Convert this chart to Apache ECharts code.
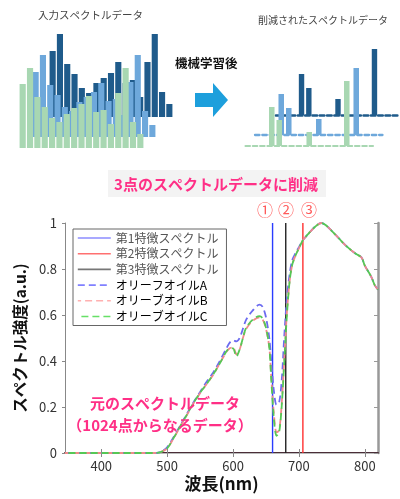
<!DOCTYPE html>
<html><head><meta charset="utf-8">
<script src="https://cdn.jsdelivr.net/npm/echarts@6/dist/echarts.min.js"></script>
<style>html,body{margin:0;padding:0;background:#fff}#c{width:400px;height:499px}</style>
</head><body><div id="c"></div>
<script>
const FONT = '"Noto Sans CJK JP", "Noto Sans", sans-serif';

// ---- main spectrum chart data ----
const wavelengths = [345, 400, 450, 480, 490, 500, 510, 520, 530, 540, 550, 560, 570, 580, 590, 595, 600, 605, 610, 615, 620, 630, 640, 645, 650, 655, 658, 662, 666, 670, 674, 678, 682, 686, 690, 695, 700, 706, 715, 725, 734, 741, 750, 760, 770, 780, 787, 795, 800, 810, 815, 820];
const oilA = [0, 0, 0, 0, 0.005, 0.025, 0.07, 0.12, 0.17, 0.22, 0.265, 0.31, 0.35, 0.40, 0.455, 0.48, 0.49, 0.485, 0.50, 0.54, 0.58, 0.62, 0.645, 0.635, 0.59, 0.50, 0.40, 0.27, 0.21, 0.22, 0.32, 0.52, 0.68, 0.78, 0.84, 0.87, 0.895, 0.925, 0.955, 0.985, 1.0, 0.99, 0.965, 0.935, 0.905, 0.88, 0.865, 0.85, 0.815, 0.765, 0.73, 0.71];
const oilB = [0, 0, 0, 0, 0.004, 0.02, 0.065, 0.115, 0.165, 0.215, 0.26, 0.30, 0.34, 0.39, 0.44, 0.455, 0.46, 0.43, 0.45, 0.50, 0.54, 0.575, 0.59, 0.58, 0.54, 0.46, 0.33, 0.17, 0.09, 0.10, 0.22, 0.42, 0.62, 0.75, 0.82, 0.86, 0.89, 0.925, 0.955, 0.985, 1.0, 0.99, 0.965, 0.935, 0.905, 0.88, 0.865, 0.85, 0.815, 0.765, 0.73, 0.71];
const oilC = [0, 0, 0, 0, 0.004, 0.02, 0.066, 0.117, 0.167, 0.218, 0.262, 0.30, 0.342, 0.39, 0.442, 0.455, 0.455, 0.42, 0.45, 0.50, 0.545, 0.58, 0.595, 0.585, 0.545, 0.46, 0.32, 0.15, 0.075, 0.09, 0.21, 0.41, 0.61, 0.75, 0.82, 0.86, 0.89, 0.925, 0.955, 0.985, 1.0, 0.99, 0.965, 0.935, 0.905, 0.88, 0.865, 0.85, 0.815, 0.765, 0.73, 0.71];
const oilNames = ['オリーフオイルA', 'オリーブオイルB', 'オリーブオイルC'];
const featureNames = ['第1特徴スペクトル', '第2特徴スペクトル', '第3特徴スペクトル'];
const featureWavelengths = [660, 706, 680];
const xTicks = [400, 500, 600, 700, 800];
const yTicks = [0, 0.2, 0.4, 0.6, 0.8, 1];

// ---- illustration (bar heights, arbitrary units) ----
const inputDark  = [66, 83, 53, 43, 29, 24, 34, 39, 44, 55, 34, 37, 20, 55, 83, 25, 13];
const inputMid   = [65, 82, 52, 42, 30, 26, 35, 40, 45, 54, 36, 38, 22, 55, 82, 26, 12];
const inputGreen = [64, 80, 51, 41, 30, 26, 34, 40, 44, 52, 36, 38, 24, 55, 80, 26, 14];
const reducedDark  = [null, null, null, 41, 27, null, null, null, 16, null, null, null, null, 66, null, null, null];
const reducedMid   = [null, null, null, 41, 27, null, null, null, 16, null, null, null, null, 67, null, null, null];
const reducedGreen = [null, null, null, 39, 26, null, null, null, 14, null, null, null, null, 65, null, null, null];

const C_DARK = '#1f5b8b', C_MID = '#6ea8db', C_GREEN = '#a8d7b2';

const idx = n => Array.from({length: n}, (_, i) => i);
const zip = (xs, ys) => xs.map((x, i) => [x, ys[i]]);

const chart = echarts.init(document.getElementById('c'), null, {renderer: 'canvas'});

const illGrids = [
  {left: 49, top: 17, width: 124, height: 100},
  {left: 32, top: 37, width: 124, height: 100},
  {left: 19, top: 48, width: 125, height: 100},
  {left: 276, top: 15, width: 127.5, height: 100},
  {left: 255, top: 35, width: 127.5, height: 100},
  {left: 245.5, top: 46, width: 127.5, height: 100}
];
const illData = [inputDark, inputMid, inputGreen, reducedDark, reducedMid, reducedGreen];
const illColors = [C_DARK, C_MID, C_GREEN, C_DARK, C_MID, C_GREEN];
const dashW = [2.7, 2.3, 2.1];

const xAxes = [
  {type: 'value', gridIndex: 0, min: 345, max: 820,
   axisLine: {show: true, lineStyle: {color: '#4a2e38', width: 2}},
   axisTick: {show: true, inside: true, length: 4, customValues: xTicks, lineStyle: {color: '#888'}},
   axisLabel: {customValues: xTicks, color: '#333', fontSize: 13, margin: 7, fontFamily: FONT},
   splitLine: {show: false},
   name: '波長(nm)', nameLocation: 'middle', nameGap: 22,
   nameTextStyle: {fontSize: 17, fontWeight: 'bold', color: '#111', fontFamily: FONT}},
  {type: 'value', gridIndex: 0, min: 345, max: 820, position: 'top',
   axisLine: {show: true, lineStyle: {color: '#bbb', width: 1}},
   axisTick: {show: true, inside: true, length: 4, customValues: xTicks, lineStyle: {color: '#888'}},
   axisLabel: {show: false}, splitLine: {show: false}}
];
const yAxes = [
  {type: 'value', gridIndex: 0, min: 0, max: 1, interval: 0.2,
   axisLine: {show: true, lineStyle: {color: '#888', width: 1}},
   axisTick: {show: true, inside: false, length: 3, lineStyle: {color: '#888'}},
   axisLabel: {color: '#333', fontSize: 13, margin: 8, fontFamily: FONT},
   splitLine: {show: false},
   name: 'スペクトル強度(a.u.)', nameLocation: 'middle', nameGap: 31, nameRotate: 90,
   nameTextStyle: {fontSize: 15.5, fontWeight: 'bold', color: '#111', fontFamily: FONT}},
  {type: 'value', gridIndex: 0, min: 0, max: 1, interval: 0.2, position: 'right',
   axisLine: {show: true, lineStyle: {color: '#999', width: 2.5}},
   axisTick: {show: true, inside: true, length: 4, lineStyle: {color: '#999'}},
   axisLabel: {show: false}, splitLine: {show: false}}
];
illGrids.forEach((g, i) => {
  const right = i >= 3;
  xAxes.push({type: 'category', gridIndex: i + 1, data: idx(illData[i].length),
    axisLine: {show: right, lineStyle: {color: illColors[i], width: right ? dashW[i - 3] : 1, type: [4.5, 2.8]}},
    axisTick: {show: false}, axisLabel: {show: false}, splitLine: {show: false}});
  yAxes.push({type: 'value', gridIndex: i + 1, min: 0, max: 100, show: false, splitLine: {show: false}});
});

const series = [];
illData.forEach((d, i) => {
  series.push({type: 'bar', xAxisIndex: i + 2, yAxisIndex: i + 2, data: d,
    barCategoryGap: i < 3 ? '16%' : '26%', itemStyle: {color: illColors[i]},
    z: 2 + (i % 3), silent: true, animation: false});
});
const featureColors = ['#2a3cff', '#ff3030', '#222222'];
featureWavelengths.forEach((w, i) => {
  series.push({type: 'line', name: featureNames[i], xAxisIndex: 0, yAxisIndex: 0,
    data: [[w, 0], [w, 1]], symbol: 'none', lineStyle: {color: featureColors[i], width: 1.4},
    itemStyle: {color: featureColors[i]}, z: 6, animation: false});
});
const oilColors = ['#6b6bf0', '#f08a8a', '#55c855'];
const oilData = [oilA, oilB, oilC];
oilData.forEach((d, i) => {
  series.push({type: 'line', name: oilNames[i], xAxisIndex: 0, yAxisIndex: 0,
    data: zip(wavelengths, d), symbol: 'none', smooth: 0.3,
    lineStyle: {color: oilColors[i], width: 1.8, type: [7, 4], dashOffset: i * 3.7},
    itemStyle: {color: oilColors[i]}, z: 7 + i, animation: false});
});

const legendColors = ['#8c8cff', '#ff7070', '#777777', '#8080ff', '#ffb0b0', '#66e066'];
const legendDash = ['solid', 'solid', 'solid', [7, 4], [7, 4], [7, 4]];
const legendData = featureNames.concat(oilNames).map((n, i) => ({
  name: n,
  textStyle: {color: i < 3 ? '#555' : '#000'},
  itemStyle: {opacity: 0},
  lineStyle: {color: legendColors[i], width: 1.6, type: legendDash[i]}
}));

const pink = '#ff2f86';
const option = {
  animation: false,
  backgroundColor: '#fff',
  textStyle: {fontFamily: FONT},
  grid: [{left: 65, top: 223, width: 313, height: 230}].concat(illGrids),
  xAxis: xAxes,
  yAxis: yAxes,
  legend: {orient: 'vertical', left: 73, top: 229, itemWidth: 33, itemHeight: 12, itemGap: 3.7,
    padding: [3, 8, 3, 4], borderColor: '#666', borderWidth: 1, backgroundColor: '#fff',
    itemStyle: {opacity: 0},
    textStyle: {fontSize: 12, fontFamily: FONT}, data: legendData, selectedMode: false},
  series: series,
  graphic: [
    {type: 'text', left: 38, top: 10, style: {text: '入力スペクトルデータ', fontSize: 10.5, fill: '#444', fontFamily: FONT}},
    {type: 'text', left: 258, top: 15, style: {text: '削減されたスペクトルデータ', fontSize: 10, fill: '#444', fontFamily: FONT}},
    {type: 'text', left: 175, top: 57, style: {text: '機械学習後', fontSize: 12.5, fontWeight: 'bold', fill: '#111', fontFamily: FONT}},
    {type: 'polygon', shape: {points: [[195, 93], [213, 93], [213, 83], [228, 100], [213, 117], [213, 107], [195, 107]]},
      style: {fill: '#1d9fdc'}},
    {type: 'rect', shape: {x: 108, y: 170, width: 218, height: 27}, style: {fill: '#f3f3f3'}},
    {type: 'text', x: 216, y: 184, style: {text: '3点のスペクトルデータに削減', fontSize: 15, fontWeight: 'bold', fill: pink,
      fontFamily: FONT, align: 'center', verticalAlign: 'middle'}},
    {type: 'text', x: 265, y: 210, style: {text: '①', fontSize: 16, fill: '#ff5a5a', fontFamily: FONT, align: 'center', verticalAlign: 'middle'}},
    {type: 'text', x: 286, y: 210, style: {text: '②', fontSize: 16, fill: '#ff5a5a', fontFamily: FONT, align: 'center', verticalAlign: 'middle'}},
    {type: 'text', x: 309, y: 210, style: {text: '③', fontSize: 16, fill: '#ff5a5a', fontFamily: FONT, align: 'center', verticalAlign: 'middle'}},
    {type: 'text', x: 165, y: 403, z: 20, style: {text: '元のスペクトルデータ', fontSize: 15, fontWeight: 'bold', fill: pink,
      fontFamily: FONT, align: 'center', verticalAlign: 'middle'}},
    {type: 'text', x: 160, y: 425, z: 20, style: {text: '（1024点からなるデータ）', fontSize: 15, fontWeight: 'bold', fill: pink,
      fontFamily: FONT, align: 'center', verticalAlign: 'middle'}}
  ]
};
chart.setOption(option);
</script></body></html>
